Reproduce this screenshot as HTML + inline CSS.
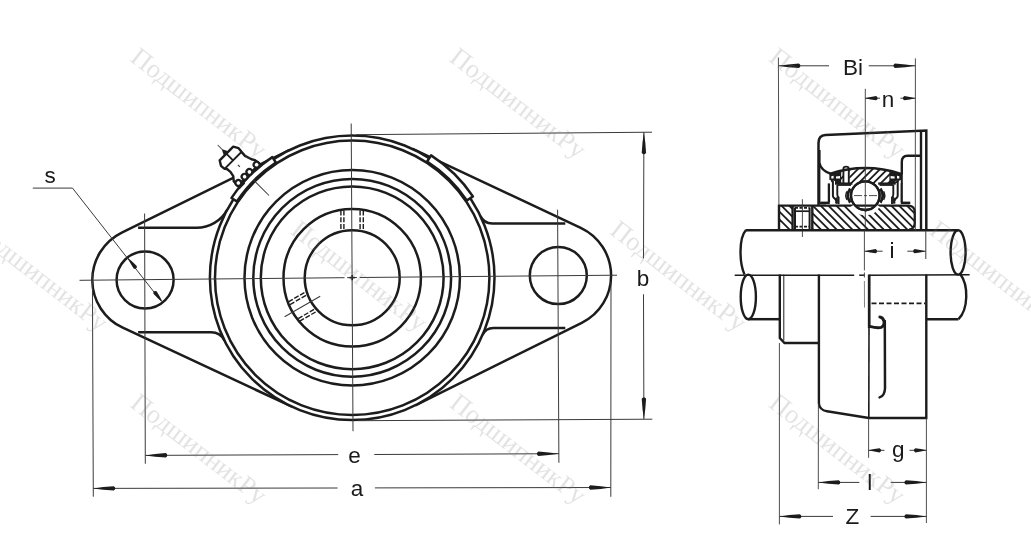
<!DOCTYPE html>
<html><head><meta charset="utf-8"><title>drawing</title>
<style>html,body{margin:0;padding:0;background:#fff;}body{width:1031px;height:557px;overflow:hidden;font-family:"Liberation Sans",sans-serif;}svg{display:block;font-family:"Liberation Sans",sans-serif;filter:grayscale(1);}</style>
</head><body>
<svg width="1031" height="557" viewBox="0 0 1031 557">
<rect width="1031" height="557" fill="#fff"/>
<path d="M289.41,150.1 L121.8,232.52 A52.8,52.8 0 0 0 122.77,327.74 L292.01,406.74" stroke="#1c1c1c" stroke-width="2.5" fill="#fff" />
<path d="M138.1,227.8 L196.6,227.8 A35,35 0 0 0 227.32,209.58" stroke="#1c1c1c" stroke-width="2.5" fill="none" />
<path d="M138.1,332.2 L211.04,332.2 A15,15 0 0 1 224.5,340.58" stroke="#1c1c1c" stroke-width="2.5" fill="none" />
<circle cx="145.1" cy="279.9" r="28.5" stroke="#1c1c1c" stroke-width="2.5" fill="none"/>
<path d="M412.62,148.96 L580.72,227.8 A52.8,52.8 0 0 1 581.73,322.91 L415.36,405.32" stroke="#1c1c1c" stroke-width="2.5" fill="#fff" />
<path d="M565.3,223.5 L492.16,223.5 A13,13 0 0 1 480.44,216.13" stroke="#1c1c1c" stroke-width="2.5" fill="none" />
<path d="M565.3,327.9 L493.45,327.9 A12,12 0 0 0 482.47,335.07" stroke="#1c1c1c" stroke-width="2.5" fill="none" />
<circle cx="558.3" cy="275.6" r="28.5" stroke="#1c1c1c" stroke-width="2.5" fill="none"/>
<circle cx="352.2" cy="277.8" r="142.3" stroke="#1c1c1c" stroke-width="2.5" fill="#fff"/>
<circle cx="352.2" cy="277.8" r="137.2" stroke="#1c1c1c" stroke-width="2.5" fill="none"/>
<circle cx="352.2" cy="277.8" r="107.7" stroke="#1c1c1c" stroke-width="2.5" fill="none"/>
<circle cx="352.2" cy="277.8" r="98.9" stroke="#1c1c1c" stroke-width="2.5" fill="none"/>
<circle cx="352.2" cy="277.8" r="91.4" stroke="#1c1c1c" stroke-width="2.5" fill="none"/>
<circle cx="352.2" cy="277.8" r="68.7" stroke="#1c1c1c" stroke-width="2.5" fill="none"/>
<circle cx="352.2" cy="277.8" r="47.5" stroke="#1c1c1c" stroke-width="2.5" fill="none"/>
<path d="M472.91,196.38 A145.6,145.6 0 0 0 431.07,155.41 L427.12,161.55 A138.3,138.3 0 0 1 466.86,200.46 Z" stroke="#1c1c1c" stroke-width="2.5" fill="#fff" stroke-linejoin="round"/>
<path d="M272.33,157.14 A144.7,144.7 0 0 0 231.54,197.93 L236.87,201.47 A138.3,138.3 0 0 1 275.87,162.47 Z" stroke="#1c1c1c" stroke-width="2.5" fill="#fff" stroke-linejoin="round"/>
<g transform="translate(352.2,277.8) rotate(-135)">
<path d="M146,-16 L152,-15.5 L156,-12.2 L161,-11.2 L165.5,-11.6 L167.3,-13.2 L172,-13.6 L176.8,-10.6 L176.8,8.6 L172,11.3 L167.3,10.8 L162,10.4 L155,12.6 L152,14.5 L146,15 Z" stroke="#1c1c1c" stroke-width="2.4" fill="#fff" stroke-linejoin="round"/>
<line x1="167.3" y1="-13.2" x2="167.3" y2="10.8" stroke="#1c1c1c" stroke-width="2.0" />
<line x1="167.3" y1="-1.2" x2="176.8" y2="-1.2" stroke="#1c1c1c" stroke-width="1.8" />
<polygon points="176.5,-4.6 176.5,2.2 183.5,-1.2" fill="#1c1c1c"/>
<circle cx="147.6" cy="12.4" r="2.9" stroke="#1c1c1c" stroke-width="2.2" fill="#fff"/>
<circle cx="147.6" cy="2.2" r="2.9" stroke="#1c1c1c" stroke-width="2.2" fill="#fff"/>
<circle cx="147.6" cy="-4.6" r="2.9" stroke="#1c1c1c" stroke-width="2.2" fill="#fff"/>
<circle cx="147.6" cy="-13.4" r="2.9" stroke="#1c1c1c" stroke-width="2.2" fill="#fff"/>
<line x1="143.5" y1="-17" x2="143.5" y2="-9" stroke="#1c1c1c" stroke-width="2.4" />
<line x1="117" y1="-0.6" x2="139" y2="-0.6" stroke="#3a3a3a" stroke-width="1.0" />
<line x1="157.8" y1="-1" x2="160.6" y2="-1" stroke="#3a3a3a" stroke-width="1.2" />
<line x1="183" y1="-1.2" x2="189" y2="-1.2" stroke="#3a3a3a" stroke-width="1.0" />
</g>
<line x1="340.9" y1="210.6" x2="340.9" y2="229.3" stroke="#1c1c1c" stroke-width="1.4" stroke-dasharray="5 1.7"/>
<line x1="343.9" y1="210.6" x2="343.9" y2="229.3" stroke="#1c1c1c" stroke-width="1.4" stroke-dasharray="5 1.7"/>
<line x1="360.1" y1="210.6" x2="360.1" y2="229.3" stroke="#1c1c1c" stroke-width="1.4" stroke-dasharray="5 1.7"/>
<line x1="363.3" y1="210.6" x2="363.3" y2="229.3" stroke="#1c1c1c" stroke-width="1.4" stroke-dasharray="5 1.7"/>
<g transform="rotate(-120 352.2 277.8)">
<line x1="340.9" y1="210.6" x2="340.9" y2="229.3" stroke="#1c1c1c" stroke-width="1.4" stroke-dasharray="5 1.7"/>
<line x1="343.9" y1="210.6" x2="343.9" y2="229.3" stroke="#1c1c1c" stroke-width="1.4" stroke-dasharray="5 1.7"/>
<line x1="360.1" y1="210.6" x2="360.1" y2="229.3" stroke="#1c1c1c" stroke-width="1.4" stroke-dasharray="5 1.7"/>
<line x1="363.3" y1="210.6" x2="363.3" y2="229.3" stroke="#1c1c1c" stroke-width="1.4" stroke-dasharray="5 1.7"/>
<line x1="352.2" y1="199.8" x2="352.2" y2="240.8" stroke="#3a3a3a" stroke-width="1.0" />
</g>
<line x1="351.2" y1="123.5" x2="353" y2="431.2" stroke="#3a3a3a" stroke-width="1.0" />
<line x1="79.5" y1="280.3" x2="344.5" y2="277.7" stroke="#3a3a3a" stroke-width="1.0" />
<line x1="347.1" y1="277.65" x2="357" y2="277.55" stroke="#3a3a3a" stroke-width="1.0" />
<line x1="359.7" y1="277.5" x2="617" y2="275.2" stroke="#3a3a3a" stroke-width="1.0" />
<line x1="349.6" y1="277.6" x2="354.8" y2="277.6" stroke="#1c1c1c" stroke-width="1.6" />
<line x1="352.2" y1="275" x2="352.2" y2="280.2" stroke="#1c1c1c" stroke-width="1.6" />
<line x1="144.6" y1="213.5" x2="145.3" y2="463.7" stroke="#3a3a3a" stroke-width="1.0" />
<line x1="557.6" y1="209.7" x2="558.9" y2="462.8" stroke="#3a3a3a" stroke-width="1.0" />
<line x1="92.4" y1="273" x2="93.3" y2="496.7" stroke="#3a3a3a" stroke-width="1.0" />
<line x1="611" y1="282" x2="610.8" y2="496.8" stroke="#3a3a3a" stroke-width="1.0" />
<line x1="356" y1="134.7" x2="652" y2="132.2" stroke="#3a3a3a" stroke-width="1.0" />
<line x1="358" y1="420.7" x2="652.3" y2="419.2" stroke="#3a3a3a" stroke-width="1.0" />
<line x1="145.3" y1="455.4" x2="338.2" y2="454.6" stroke="#3a3a3a" stroke-width="1.0" />
<line x1="374.3" y1="454.5" x2="558.9" y2="453.7" stroke="#3a3a3a" stroke-width="1.0" />
<path d="M145.3,455.4 L155.21,456.72 L165.81,457.52 Q167.31,456.63 167.3,455.31 Q167.29,453.99 165.79,453.12 L155.19,454 Z" fill="#1c1c1c"/>
<path d="M558.9,453.7 L548.99,452.38 L538.39,451.58 Q536.89,452.47 536.9,453.79 Q536.91,455.11 538.41,455.98 L549.01,455.1 Z" fill="#1c1c1c"/>
<text x="354.6" y="463" font-size="22.5" text-anchor="middle" fill="#1a1a1a">e</text>
<line x1="93.3" y1="488.4" x2="337.6" y2="488" stroke="#3a3a3a" stroke-width="1.0" />
<line x1="374.9" y1="487.9" x2="610.8" y2="487.5" stroke="#3a3a3a" stroke-width="1.0" />
<path d="M93.3,488.4 L103.2,489.74 L113.8,490.56 Q115.3,489.68 115.3,488.36 Q115.3,487.04 113.8,486.16 L103.2,487.02 Z" fill="#1c1c1c"/>
<path d="M610.8,487.5 L600.9,486.16 L590.3,485.34 Q588.8,486.22 588.8,487.54 Q588.8,488.86 590.3,489.74 L600.9,488.88 Z" fill="#1c1c1c"/>
<text x="356.9" y="496" font-size="22.5" text-anchor="middle" fill="#1a1a1a">a</text>
<line x1="643.9" y1="132.3" x2="643.5" y2="258.4" stroke="#3a3a3a" stroke-width="1.0" />
<line x1="643.5" y1="294.3" x2="643.9" y2="419.2" stroke="#3a3a3a" stroke-width="1.0" />
<path d="M643.9,132.3 L642.54,142.2 L641.7,152.8 Q642.58,154.3 643.9,154.3 Q645.22,154.3 646.1,152.8 L645.26,142.2 Z" fill="#1c1c1c"/>
<path d="M643.9,419.2 L645.26,409.3 L646.1,398.7 Q645.22,397.2 643.9,397.2 Q642.58,397.2 641.7,398.7 L642.54,409.3 Z" fill="#1c1c1c"/>
<text x="643" y="285.7" font-size="22.5" text-anchor="middle" fill="#1a1a1a">b</text>
<line x1="32.8" y1="188.1" x2="72.5" y2="188.1" stroke="#3a3a3a" stroke-width="1.0" />
<line x1="72.5" y1="188.1" x2="161.2" y2="301.2" stroke="#3a3a3a" stroke-width="1.0" />
<path d="M127.51,257.47 L130.42,263.2 L133.65,268.54 Q135.21,269.23 136.15,268.49 Q137.1,267.75 136.8,266.08 L132.38,261.67 Z" fill="#1c1c1c"/>
<path d="M162.69,302.33 L159.78,296.6 L156.55,291.26 Q154.99,290.57 154.05,291.31 Q153.1,292.05 153.4,293.72 L157.82,298.13 Z" fill="#1c1c1c"/>
<text x="50" y="183" font-size="22.5" text-anchor="middle" fill="#1a1a1a">s</text>
<defs>
<clipPath id="cpInner"><path d="M780,205.6 L909,205.6 Q914.5,206 914.8,212 L914.8,223 Q914.5,229 909,229.6 L780,229.6 Z"/></clipPath>
<clipPath id="cpOuter"><path d="M831,174 Q865.3,162.6 899.5,174 L899.5,183 L831,183 Z"/></clipPath>
</defs>
<g clip-path="url(#cpInner)">
<line x1="760" y1="200" x2="792" y2="232" stroke="#1c1c1c" stroke-width="1.8" />
<line x1="767.85" y1="200" x2="799.85" y2="232" stroke="#1c1c1c" stroke-width="1.8" />
<line x1="775.7" y1="200" x2="807.7" y2="232" stroke="#1c1c1c" stroke-width="1.8" />
<line x1="783.55" y1="200" x2="815.55" y2="232" stroke="#1c1c1c" stroke-width="1.8" />
<line x1="791.4" y1="200" x2="823.4" y2="232" stroke="#1c1c1c" stroke-width="1.8" />
<line x1="799.25" y1="200" x2="831.25" y2="232" stroke="#1c1c1c" stroke-width="1.8" />
<line x1="807.1" y1="200" x2="839.1" y2="232" stroke="#1c1c1c" stroke-width="1.8" />
<line x1="814.95" y1="200" x2="846.95" y2="232" stroke="#1c1c1c" stroke-width="1.8" />
<line x1="822.8" y1="200" x2="854.8" y2="232" stroke="#1c1c1c" stroke-width="1.8" />
<line x1="830.65" y1="200" x2="862.65" y2="232" stroke="#1c1c1c" stroke-width="1.8" />
<line x1="838.5" y1="200" x2="870.5" y2="232" stroke="#1c1c1c" stroke-width="1.8" />
<line x1="846.35" y1="200" x2="878.35" y2="232" stroke="#1c1c1c" stroke-width="1.8" />
<line x1="854.2" y1="200" x2="886.2" y2="232" stroke="#1c1c1c" stroke-width="1.8" />
<line x1="862.05" y1="200" x2="894.05" y2="232" stroke="#1c1c1c" stroke-width="1.8" />
<line x1="869.9" y1="200" x2="901.9" y2="232" stroke="#1c1c1c" stroke-width="1.8" />
<line x1="877.75" y1="200" x2="909.75" y2="232" stroke="#1c1c1c" stroke-width="1.8" />
<line x1="885.6" y1="200" x2="917.6" y2="232" stroke="#1c1c1c" stroke-width="1.8" />
<line x1="893.45" y1="200" x2="925.45" y2="232" stroke="#1c1c1c" stroke-width="1.8" />
<line x1="901.3" y1="200" x2="933.3" y2="232" stroke="#1c1c1c" stroke-width="1.8" />
<line x1="909.15" y1="200" x2="941.15" y2="232" stroke="#1c1c1c" stroke-width="1.8" />
<line x1="917" y1="200" x2="949" y2="232" stroke="#1c1c1c" stroke-width="1.8" />
<line x1="924.85" y1="200" x2="956.85" y2="232" stroke="#1c1c1c" stroke-width="1.8" />
<line x1="932.7" y1="200" x2="964.7" y2="232" stroke="#1c1c1c" stroke-width="1.8" />
</g>
<rect x="792.5" y="206" width="20" height="24" fill="#fff"/>
<g clip-path="url(#cpOuter)">
<line x1="800" y1="190" x2="830" y2="160" stroke="#1c1c1c" stroke-width="1.8" />
<line x1="807.4" y1="190" x2="837.4" y2="160" stroke="#1c1c1c" stroke-width="1.8" />
<line x1="814.8" y1="190" x2="844.8" y2="160" stroke="#1c1c1c" stroke-width="1.8" />
<line x1="822.2" y1="190" x2="852.2" y2="160" stroke="#1c1c1c" stroke-width="1.8" />
<line x1="829.6" y1="190" x2="859.6" y2="160" stroke="#1c1c1c" stroke-width="1.8" />
<line x1="837" y1="190" x2="867" y2="160" stroke="#1c1c1c" stroke-width="1.8" />
<line x1="844.4" y1="190" x2="874.4" y2="160" stroke="#1c1c1c" stroke-width="1.8" />
<line x1="851.8" y1="190" x2="881.8" y2="160" stroke="#1c1c1c" stroke-width="1.8" />
<line x1="859.2" y1="190" x2="889.2" y2="160" stroke="#1c1c1c" stroke-width="1.8" />
<line x1="866.6" y1="190" x2="896.6" y2="160" stroke="#1c1c1c" stroke-width="1.8" />
<line x1="874" y1="190" x2="904" y2="160" stroke="#1c1c1c" stroke-width="1.8" />
<line x1="881.4" y1="190" x2="911.4" y2="160" stroke="#1c1c1c" stroke-width="1.8" />
<line x1="888.8" y1="190" x2="918.8" y2="160" stroke="#1c1c1c" stroke-width="1.8" />
<line x1="896.2" y1="190" x2="926.2" y2="160" stroke="#1c1c1c" stroke-width="1.8" />
<line x1="903.6" y1="190" x2="933.6" y2="160" stroke="#1c1c1c" stroke-width="1.8" />
<line x1="911" y1="190" x2="941" y2="160" stroke="#1c1c1c" stroke-width="1.8" />
<line x1="918.4" y1="190" x2="948.4" y2="160" stroke="#1c1c1c" stroke-width="1.8" />
</g>
<rect x="843.6" y="165" width="5.6" height="18" fill="#fff"/>
<circle cx="865.3" cy="195.6" r="14.3" stroke="#1c1c1c" stroke-width="2.3" fill="#fff"/>
<path d="M779,229.6 L779,205.6 L909,205.6 Q914.6,206 914.8,212 L914.8,223 Q914.6,229 909,229.6" stroke="#1c1c1c" stroke-width="2.4" fill="none" />
<path d="M852.5,205.6 A14.3,14.3 0 0 0 878.1,205.6" stroke="#fff" stroke-width="3.6" fill="none" />
<circle cx="865.3" cy="195.6" r="14.3" stroke="#1c1c1c" stroke-width="2.3" fill="none"/>
<line x1="854" y1="195.6" x2="862" y2="195.6" stroke="#3a3a3a" stroke-width="0.9" />
<line x1="864" y1="195.6" x2="867" y2="195.6" stroke="#3a3a3a" stroke-width="0.9" />
<line x1="869" y1="195.6" x2="877" y2="195.6" stroke="#3a3a3a" stroke-width="0.9" />
<line x1="792.6" y1="205.6" x2="792.6" y2="229.6" stroke="#1c1c1c" stroke-width="2.4" />
<line x1="812.3" y1="205.6" x2="812.3" y2="229.6" stroke="#1c1c1c" stroke-width="2.4" />
<line x1="795" y1="207.5" x2="795" y2="229" stroke="#1c1c1c" stroke-width="2.0" />
<line x1="809.6" y1="207.5" x2="809.6" y2="229" stroke="#1c1c1c" stroke-width="2.0" />
<line x1="795" y1="207.8" x2="809.6" y2="207.8" stroke="#1c1c1c" stroke-width="1.7" stroke-dasharray="3 1.5"/>
<line x1="795" y1="211.2" x2="809.6" y2="211.2" stroke="#1c1c1c" stroke-width="1.7" />
<line x1="795" y1="226.6" x2="809.6" y2="226.6" stroke="#1c1c1c" stroke-width="1.7" stroke-dasharray="3 1.5"/>
<line x1="802.4" y1="199.2" x2="802.4" y2="237" stroke="#3a3a3a" stroke-width="0.9" />
<path d="M829.6,174 Q865.3,162.2 901,174" stroke="#1c1c1c" stroke-width="2.5" fill="none" />
<path d="M843.4,183 L843.4,168.8 Q843.4,166.6 846.1,166.6 Q848.8,166.6 848.8,168.8 L848.8,183" stroke="#1c1c1c" stroke-width="1.9" fill="none" />
<path d="M829.4,174 L841.2,171.2 L841.2,184 L835,184 L835,181 L829.4,180 Z" fill="#1c1c1c"/>
<path d="M831.3,176.2 L833.6,175.8 L833.6,178.6 L831.3,178.4 Z" fill="#fff"/>
<path d="M836,176.6 L840,175.9 L840,178.4 L836,178.6 Z" fill="#fff"/>
<path d="M835,183.6 L852.4,183.6" stroke="#1c1c1c" stroke-width="2.3" fill="none" />
<path d="M828.9,183.4 L828.9,202.4" stroke="#1c1c1c" stroke-width="2.3" fill="none" />
<path d="M820.3,202.8 L829.8,202.8" stroke="#1c1c1c" stroke-width="2.4" fill="none" />
<path d="M832.9,181 L832.9,195.5 Q833,198 835.2,198.6 Q837.2,199.6 836,203.6" stroke="#1c1c1c" stroke-width="2.0" fill="none" />
<path d="M834.6,199.4 L837.4,197.2 L837.4,203.4 Z" stroke="#1c1c1c" stroke-width="0.8" fill="#1c1c1c" />
<path d="M837.3,185 L837.3,194.6 Q837.3,196.4 838.6,197.4 L838.6,204" stroke="#1c1c1c" stroke-width="1.9" fill="none" />
<path d="M837.3,185 L851,185" stroke="#1c1c1c" stroke-width="1.8" fill="none" />
<path d="M850.3,188.6 Q845.4,195.6 850.3,202.6" stroke="#1c1c1c" stroke-width="2.8" fill="none" />
<path d="M847,191.4 Q844.6,195.6 847,199.8" stroke="#1c1c1c" stroke-width="1.4" fill="none" />
<path d="M901.2,174 L889.4,171.2 L889.4,184 L895.6,184 L895.6,181 L901.2,180 Z" fill="#1c1c1c"/>
<path d="M899.3,176.2 L897,175.8 L897,178.6 L899.3,178.4 Z" fill="#fff"/>
<path d="M894.6,176.6 L890.6,175.9 L890.6,178.4 L894.6,178.6 Z" fill="#fff"/>
<path d="M895.6,183.6 L878.2,183.6" stroke="#1c1c1c" stroke-width="2.3" fill="none" />
<path d="M901.7,183.4 L901.7,202.4" stroke="#1c1c1c" stroke-width="2.3" fill="none" />
<path d="M910.3,202.8 L900.8,202.8" stroke="#1c1c1c" stroke-width="2.4" fill="none" />
<path d="M897.7,181 L897.7,195.5 Q897.6,198 895.4,198.6 Q893.4,199.6 894.6,203.6" stroke="#1c1c1c" stroke-width="2.0" fill="none" />
<path d="M896,199.4 L893.2,197.2 L893.2,203.4 Z" stroke="#1c1c1c" stroke-width="0.8" fill="#1c1c1c" />
<path d="M893.3,185 L893.3,194.6 Q893.3,196.4 892,197.4 L892,204" stroke="#1c1c1c" stroke-width="1.9" fill="none" />
<path d="M893.3,185 L879.6,185" stroke="#1c1c1c" stroke-width="1.8" fill="none" />
<path d="M880.3,188.6 Q885.2,195.6 880.3,202.6" stroke="#1c1c1c" stroke-width="2.8" fill="none" />
<path d="M883.6,191.4 Q886,195.6 883.6,199.8" stroke="#1c1c1c" stroke-width="1.4" fill="none" />
<path d="M818.5,205 L818.5,143 Q818.5,135.4 825.5,135 L926.3,130.5 L926.3,230.3" stroke="#1c1c1c" stroke-width="2.5" fill="none" />
<line x1="921" y1="130.8" x2="921" y2="230.3" stroke="#1c1c1c" stroke-width="2.4" />
<path d="M921.0,155.8 L907.5,155.8 Q901.8,156 901.8,162 L901.8,174.5" stroke="#1c1c1c" stroke-width="2.4" fill="none" />
<path d="M819.4,150 L819.4,163 Q821,170.5 830.5,173.6" stroke="#1c1c1c" stroke-width="2.4" fill="none" />
<line x1="901.8" y1="174" x2="901.8" y2="184" stroke="#1c1c1c" stroke-width="2.0" />
<line x1="819.4" y1="163" x2="819.4" y2="203.4" stroke="#1c1c1c" stroke-width="2.0" />
<path d="M819.4,203.4 L826,203.4" stroke="#1c1c1c" stroke-width="2.0" fill="none" />
<line x1="745.5" y1="230.3" x2="958" y2="230.3" stroke="#1c1c1c" stroke-width="2.6" />
<line x1="734.7" y1="275.3" x2="854.2" y2="275.2" stroke="#1c1c1c" stroke-width="1.5" />
<line x1="859.2" y1="275.2" x2="864.6" y2="275.2" stroke="#1c1c1c" stroke-width="1.5" />
<line x1="868.6" y1="275.2" x2="969.6" y2="274.8" stroke="#1c1c1c" stroke-width="1.5" />
<path d="M745.8,230.3 C739,238 739,262 744.5,274.6" stroke="#1c1c1c" stroke-width="2.4" fill="none" />
<ellipse cx="748.3" cy="296.9" rx="7.6" ry="22.299999999999983" fill="none" stroke="#1c1c1c" stroke-width="2.4"/>
<line x1="748.3" y1="319.2" x2="779" y2="319.2" stroke="#1c1c1c" stroke-width="2.5" />
<ellipse cx="958.1" cy="252.45000000000002" rx="7.5" ry="22.150000000000006" fill="none" stroke="#1c1c1c" stroke-width="2.4"/>
<path d="M960.5,274.6 C968.5,285 968.5,309 958.5,319.2" stroke="#1c1c1c" stroke-width="2.4" fill="none" />
<line x1="926.3" y1="319.2" x2="958.5" y2="319.2" stroke="#1c1c1c" stroke-width="2.5" />
<path d="M779.8,274.6 L779.8,338 L784.5,343 L818.5,343" stroke="#1c1c1c" stroke-width="2.4" fill="none" />
<line x1="783.8" y1="274.6" x2="783.8" y2="340.5" stroke="#1c1c1c" stroke-width="1.0" />
<path d="M818.9,274.6 L818.9,403.5 Q819.5,410 827,411.3 L868.8,418 L926.3,418 L926.3,274.6" stroke="#1c1c1c" stroke-width="2.4" fill="none" />
<line x1="869.2" y1="274.6" x2="869.2" y2="328" stroke="#1c1c1c" stroke-width="2.7" />
<line x1="869" y1="328" x2="868.8" y2="418" stroke="#1c1c1c" stroke-width="1.6" />
<line x1="871.5" y1="303.3" x2="925" y2="303.3" stroke="#1c1c1c" stroke-width="1.7" stroke-dasharray="5 2.5"/>
<path d="M869.6,326.4 Q877,328.3 881.2,327.4 Q884.6,326 884,321.4 Q883,317.2 879.8,317" stroke="#1c1c1c" stroke-width="2.9" fill="none" stroke-linecap="round"/>
<path d="M884.8,321 L885,388.5 Q884.6,396 879.6,397.4" stroke="#1c1c1c" stroke-width="2.5" fill="none" stroke-linecap="round"/>
<line x1="865.3" y1="88.8" x2="865.3" y2="230.3" stroke="#3a3a3a" stroke-width="0.9" />
<line x1="864.4" y1="230.3" x2="864.4" y2="270.4" stroke="#3a3a3a" stroke-width="0.9" />
<line x1="864.4" y1="272.5" x2="864.4" y2="277.5" stroke="#3a3a3a" stroke-width="0.9" />
<line x1="864.4" y1="281" x2="864.5" y2="307.5" stroke="#777" stroke-width="0.9" />
<line x1="778.4" y1="57.5" x2="778.9" y2="205" stroke="#3a3a3a" stroke-width="0.9" />
<line x1="915.4" y1="58.4" x2="915.3" y2="230.3" stroke="#3a3a3a" stroke-width="0.9" />
<line x1="925.8" y1="230.3" x2="925.8" y2="259" stroke="#3a3a3a" stroke-width="1.0" />
<line x1="779.4" y1="343" x2="779.4" y2="524.4" stroke="#3a3a3a" stroke-width="0.9" />
<line x1="818.4" y1="404" x2="818.3" y2="489.2" stroke="#3a3a3a" stroke-width="0.9" />
<line x1="868.6" y1="418" x2="868.6" y2="457.8" stroke="#3a3a3a" stroke-width="0.9" />
<line x1="926.4" y1="418" x2="926.4" y2="523" stroke="#3a3a3a" stroke-width="0.9" />
<line x1="778.4" y1="65.8" x2="829" y2="65.8" stroke="#3a3a3a" stroke-width="1.0" />
<line x1="868.7" y1="65.8" x2="915.4" y2="65.8" stroke="#3a3a3a" stroke-width="1.0" />
<path d="M778.4,65.8 L788.3,67.16 L798.9,68 Q800.4,67.12 800.4,65.8 Q800.4,64.48 798.9,63.6 L788.3,64.44 Z" fill="#1c1c1c"/>
<path d="M915.4,65.8 L905.5,64.44 L894.9,63.6 Q893.4,64.48 893.4,65.8 Q893.4,67.12 894.9,68 L905.5,67.16 Z" fill="#1c1c1c"/>
<text x="853" y="74.5" font-size="22.5" text-anchor="middle" fill="#1a1a1a">Bi</text>
<line x1="865.1" y1="98.2" x2="880" y2="98.2" stroke="#3a3a3a" stroke-width="1.0" />
<line x1="900.4" y1="98.2" x2="915.4" y2="98.2" stroke="#3a3a3a" stroke-width="1.0" />
<path d="M865.1,98.2 L870.73,99.5 L876.1,100.3 Q877.6,99.46 877.6,98.2 Q877.6,96.94 876.1,96.1 L870.73,96.9 Z" fill="#1c1c1c"/>
<path d="M915.4,98.2 L909.77,96.9 L904.4,96.1 Q902.9,96.94 902.9,98.2 Q902.9,99.46 904.4,100.3 L909.77,99.5 Z" fill="#1c1c1c"/>
<text x="888" y="106.7" font-size="22.5" text-anchor="middle" fill="#1a1a1a">n</text>
<line x1="864.6" y1="251.2" x2="882.6" y2="251.2" stroke="#3a3a3a" stroke-width="1.0" />
<line x1="907.3" y1="251.2" x2="925.6" y2="251.2" stroke="#3a3a3a" stroke-width="1.0" />
<path d="M864.6,251.2 L870.23,252.5 L875.6,253.3 Q877.1,252.46 877.1,251.2 Q877.1,249.94 875.6,249.1 L870.23,249.9 Z" fill="#1c1c1c"/>
<path d="M925.6,251.2 L919.98,249.9 L914.6,249.1 Q913.1,249.94 913.1,251.2 Q913.1,252.46 914.6,253.3 L919.98,252.5 Z" fill="#1c1c1c"/>
<text x="892" y="257.6" font-size="22.5" text-anchor="middle" fill="#1a1a1a">i</text>
<line x1="868.6" y1="450.3" x2="884.4" y2="450.3" stroke="#3a3a3a" stroke-width="1.0" />
<line x1="909.5" y1="450.3" x2="926.4" y2="450.3" stroke="#3a3a3a" stroke-width="1.0" />
<path d="M868.6,450.3 L874.23,451.6 L879.6,452.4 Q881.1,451.56 881.1,450.3 Q881.1,449.04 879.6,448.2 L874.23,449 Z" fill="#1c1c1c"/>
<path d="M926.4,450.3 L920.77,449 L915.4,448.2 Q913.9,449.04 913.9,450.3 Q913.9,451.56 915.4,452.4 L920.77,451.6 Z" fill="#1c1c1c"/>
<text x="898.3" y="457" font-size="22.5" text-anchor="middle" fill="#1a1a1a">g</text>
<line x1="818.3" y1="482.4" x2="859.3" y2="482.4" stroke="#3a3a3a" stroke-width="1.0" />
<line x1="890.7" y1="482.4" x2="926.4" y2="482.4" stroke="#3a3a3a" stroke-width="1.0" />
<path d="M818.3,482.4 L828.2,483.76 L838.8,484.6 Q840.3,483.72 840.3,482.4 Q840.3,481.08 838.8,480.2 L828.2,481.04 Z" fill="#1c1c1c"/>
<path d="M926.4,482.4 L916.5,481.04 L905.9,480.2 Q904.4,481.08 904.4,482.4 Q904.4,483.72 905.9,484.6 L916.5,483.76 Z" fill="#1c1c1c"/>
<text x="869.8" y="490" font-size="22.5" text-anchor="middle" fill="#1a1a1a">l</text>
<line x1="779.4" y1="516.4" x2="833" y2="516.4" stroke="#3a3a3a" stroke-width="1.0" />
<line x1="870.6" y1="516.4" x2="926.4" y2="516.4" stroke="#3a3a3a" stroke-width="1.0" />
<path d="M779.4,516.4 L789.3,517.76 L799.9,518.6 Q801.4,517.72 801.4,516.4 Q801.4,515.08 799.9,514.2 L789.3,515.04 Z" fill="#1c1c1c"/>
<path d="M926.4,516.4 L916.5,515.04 L905.9,514.2 Q904.4,515.08 904.4,516.4 Q904.4,517.72 905.9,518.6 L916.5,517.76 Z" fill="#1c1c1c"/>
<text x="852.4" y="523.7" font-size="22.5" text-anchor="middle" fill="#1a1a1a">Z</text>
<text transform="translate(129.1,60.3) rotate(37.6)" x="0" y="0" font-family="Liberation Serif, serif" font-size="26.5" fill="#7a7a7a" fill-opacity="0.21">ПодшипникРу</text>
<text transform="translate(448.2,60.3) rotate(37.6)" x="0" y="0" font-family="Liberation Serif, serif" font-size="26.5" fill="#7a7a7a" fill-opacity="0.21">ПодшипникРу</text>
<text transform="translate(767.4,60.3) rotate(37.6)" x="0" y="0" font-family="Liberation Serif, serif" font-size="26.5" fill="#7a7a7a" fill-opacity="0.21">ПодшипникРу</text>
<text transform="translate(-29.7,233.1) rotate(37.6)" x="0" y="0" font-family="Liberation Serif, serif" font-size="26.5" fill="#7a7a7a" fill-opacity="0.21">ПодшипникРу</text>
<text transform="translate(289.5,233.1) rotate(37.6)" x="0" y="0" font-family="Liberation Serif, serif" font-size="26.5" fill="#7a7a7a" fill-opacity="0.21">ПодшипникРу</text>
<text transform="translate(608.7,233.1) rotate(37.6)" x="0" y="0" font-family="Liberation Serif, serif" font-size="26.5" fill="#7a7a7a" fill-opacity="0.21">ПодшипникРу</text>
<text transform="translate(927.9,233.1) rotate(37.6)" x="0" y="0" font-family="Liberation Serif, serif" font-size="26.5" fill="#7a7a7a" fill-opacity="0.21">ПодшипникРу</text>
<text transform="translate(129.1,405.9) rotate(37.6)" x="0" y="0" font-family="Liberation Serif, serif" font-size="26.5" fill="#7a7a7a" fill-opacity="0.21">ПодшипникРу</text>
<text transform="translate(448.2,405.9) rotate(37.6)" x="0" y="0" font-family="Liberation Serif, serif" font-size="26.5" fill="#7a7a7a" fill-opacity="0.21">ПодшипникРу</text>
<text transform="translate(767.4,405.9) rotate(37.6)" x="0" y="0" font-family="Liberation Serif, serif" font-size="26.5" fill="#7a7a7a" fill-opacity="0.21">ПодшипникРу</text>
</svg>
</body></html>
